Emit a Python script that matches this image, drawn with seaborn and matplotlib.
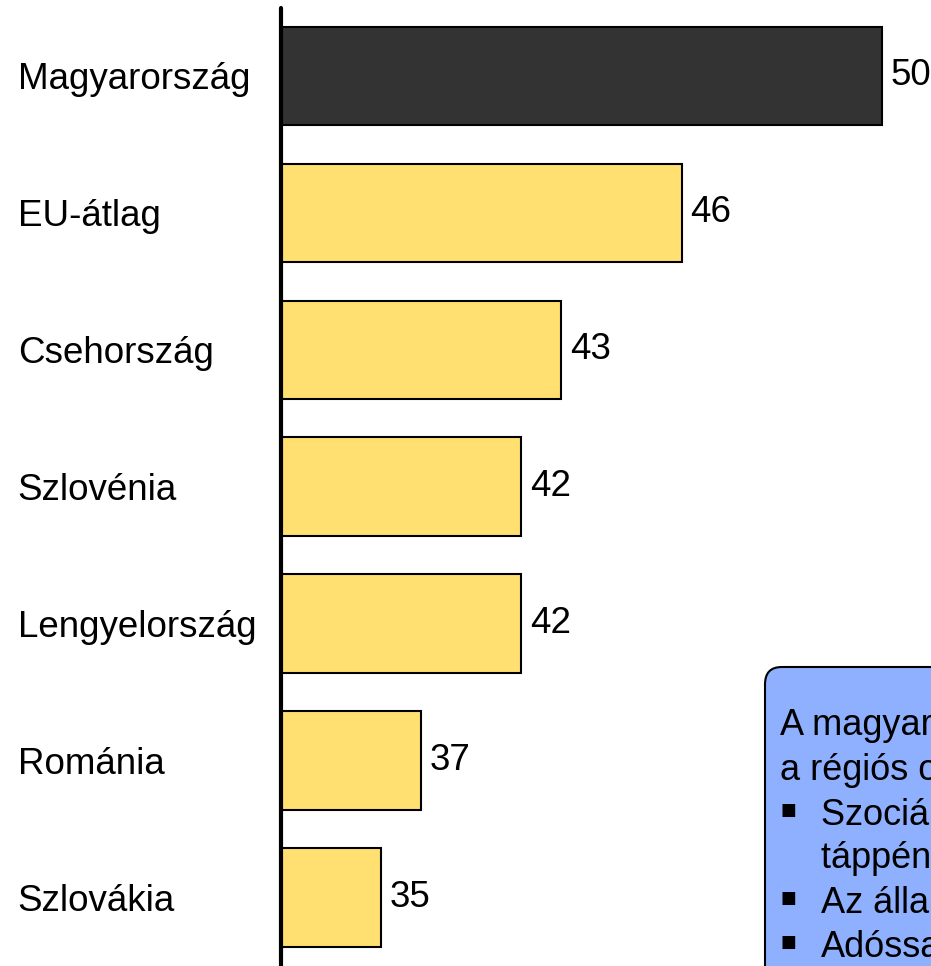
import matplotlib
matplotlib.use("Agg")
import matplotlib.pyplot as plt
from matplotlib.patches import FancyBboxPatch
import seaborn as sns
import pandas as pd

# data
countries = ["Magyarország", "EU-átlag", "Csehország", "Szlovénia",
             "Lengyelország", "Románia", "Szlovákia"]
values = [50, 46, 43, 42, 42, 37, 35]          # printed labels
bar_lengths = [30, 20, 14, 12, 12, 7, 5]       # drawn bar lengths (chart is not to scale)
bar_colors = ["#333333", "#FFE070", "#FFE070", "#FFE070", "#FFE070", "#FFE070", "#FFE070"]

box_lines = ["A magyar állami újraelosztás mértéke",
             "a régiós országokénál magasabb",
             "táppénz, segélyek)"]
bullet_lines = ["Szociális kiadások (nyugdíj,",
                "Az állami bürokrácia",
                "Adóssag-szolgálat"]

sns.set_style("white")
plt.rcParams["font.family"] = ["Liberation Sans", "DejaVu Sans"]
plt.rcParams["text.color"] = "black"
plt.rcParams["ytick.color"] = "black"

W, H = 931, 966
fig = plt.figure(figsize=(W / 100, H / 100), dpi=100)
ax = fig.add_axes([281 / W, 0, 650 / W, 1])

df = pd.DataFrame({"country": countries, "length": bar_lengths})
sns.barplot(data=df, x="length", y="country", hue="country", palette=bar_colors,
            saturation=1, legend=False, width=0.72, edgecolor="black",
            linewidth=1.5, ax=ax)

ax.set_xlim(0, 32.45)
ax.set_ylim(6.5, -0.555)
for s in ax.spines.values():
    s.set_visible(False)
ax.set_xticks([])
ax.set_xlabel("")
ax.set_ylabel("")
ax.tick_params(axis="y", length=0, pad=189.5)
for lab in ax.get_yticklabels():
    lab.set_horizontalalignment("left")
    lab.set_fontsize(26.5)

# the vertical axis line
ax.plot([0, 0], [-0.5, 6.6], color="black", linewidth=3, solid_capstyle="round",
        clip_on=False, zorder=5)

for i, (ln, v) in enumerate(zip(bar_lengths, values)):
    ax.text(ln + 0.42, i, str(v), va="center", ha="left", fontsize=26.5)

# callout box, cut by the figure edge
box = FancyBboxPatch((765 / W, -0.1), 0.4, (966 - 667) / H + 0.1,
                     boxstyle="round,pad=0,rounding_size=0.018",
                     transform=fig.transFigure, facecolor="#8EB0FF",
                     edgecolor="black", linewidth=1.5, zorder=10)
fig.add_artist(box)

fs = 26
baselines = [735, 780, 825, 868, 913, 957]
fig.text(780 / W, 1 - baselines[0] / H, box_lines[0], fontsize=fs, va="baseline", zorder=11)
fig.text(780 / W, 1 - baselines[1] / H, box_lines[1], fontsize=fs, va="baseline", zorder=11)
for y, t in zip([baselines[2], baselines[4], baselines[5]], bullet_lines):
    fig.text(781 / W, 1 - (y - 10) / H, "■", fontsize=12, va="baseline", zorder=11,
             family="DejaVu Sans")
    fig.text(821 / W, 1 - y / H, t, fontsize=fs, va="baseline", zorder=11)
fig.text(821 / W, 1 - baselines[3] / H, box_lines[2], fontsize=fs, va="baseline", zorder=11)

fig.savefig("out.png", dpi=100)
